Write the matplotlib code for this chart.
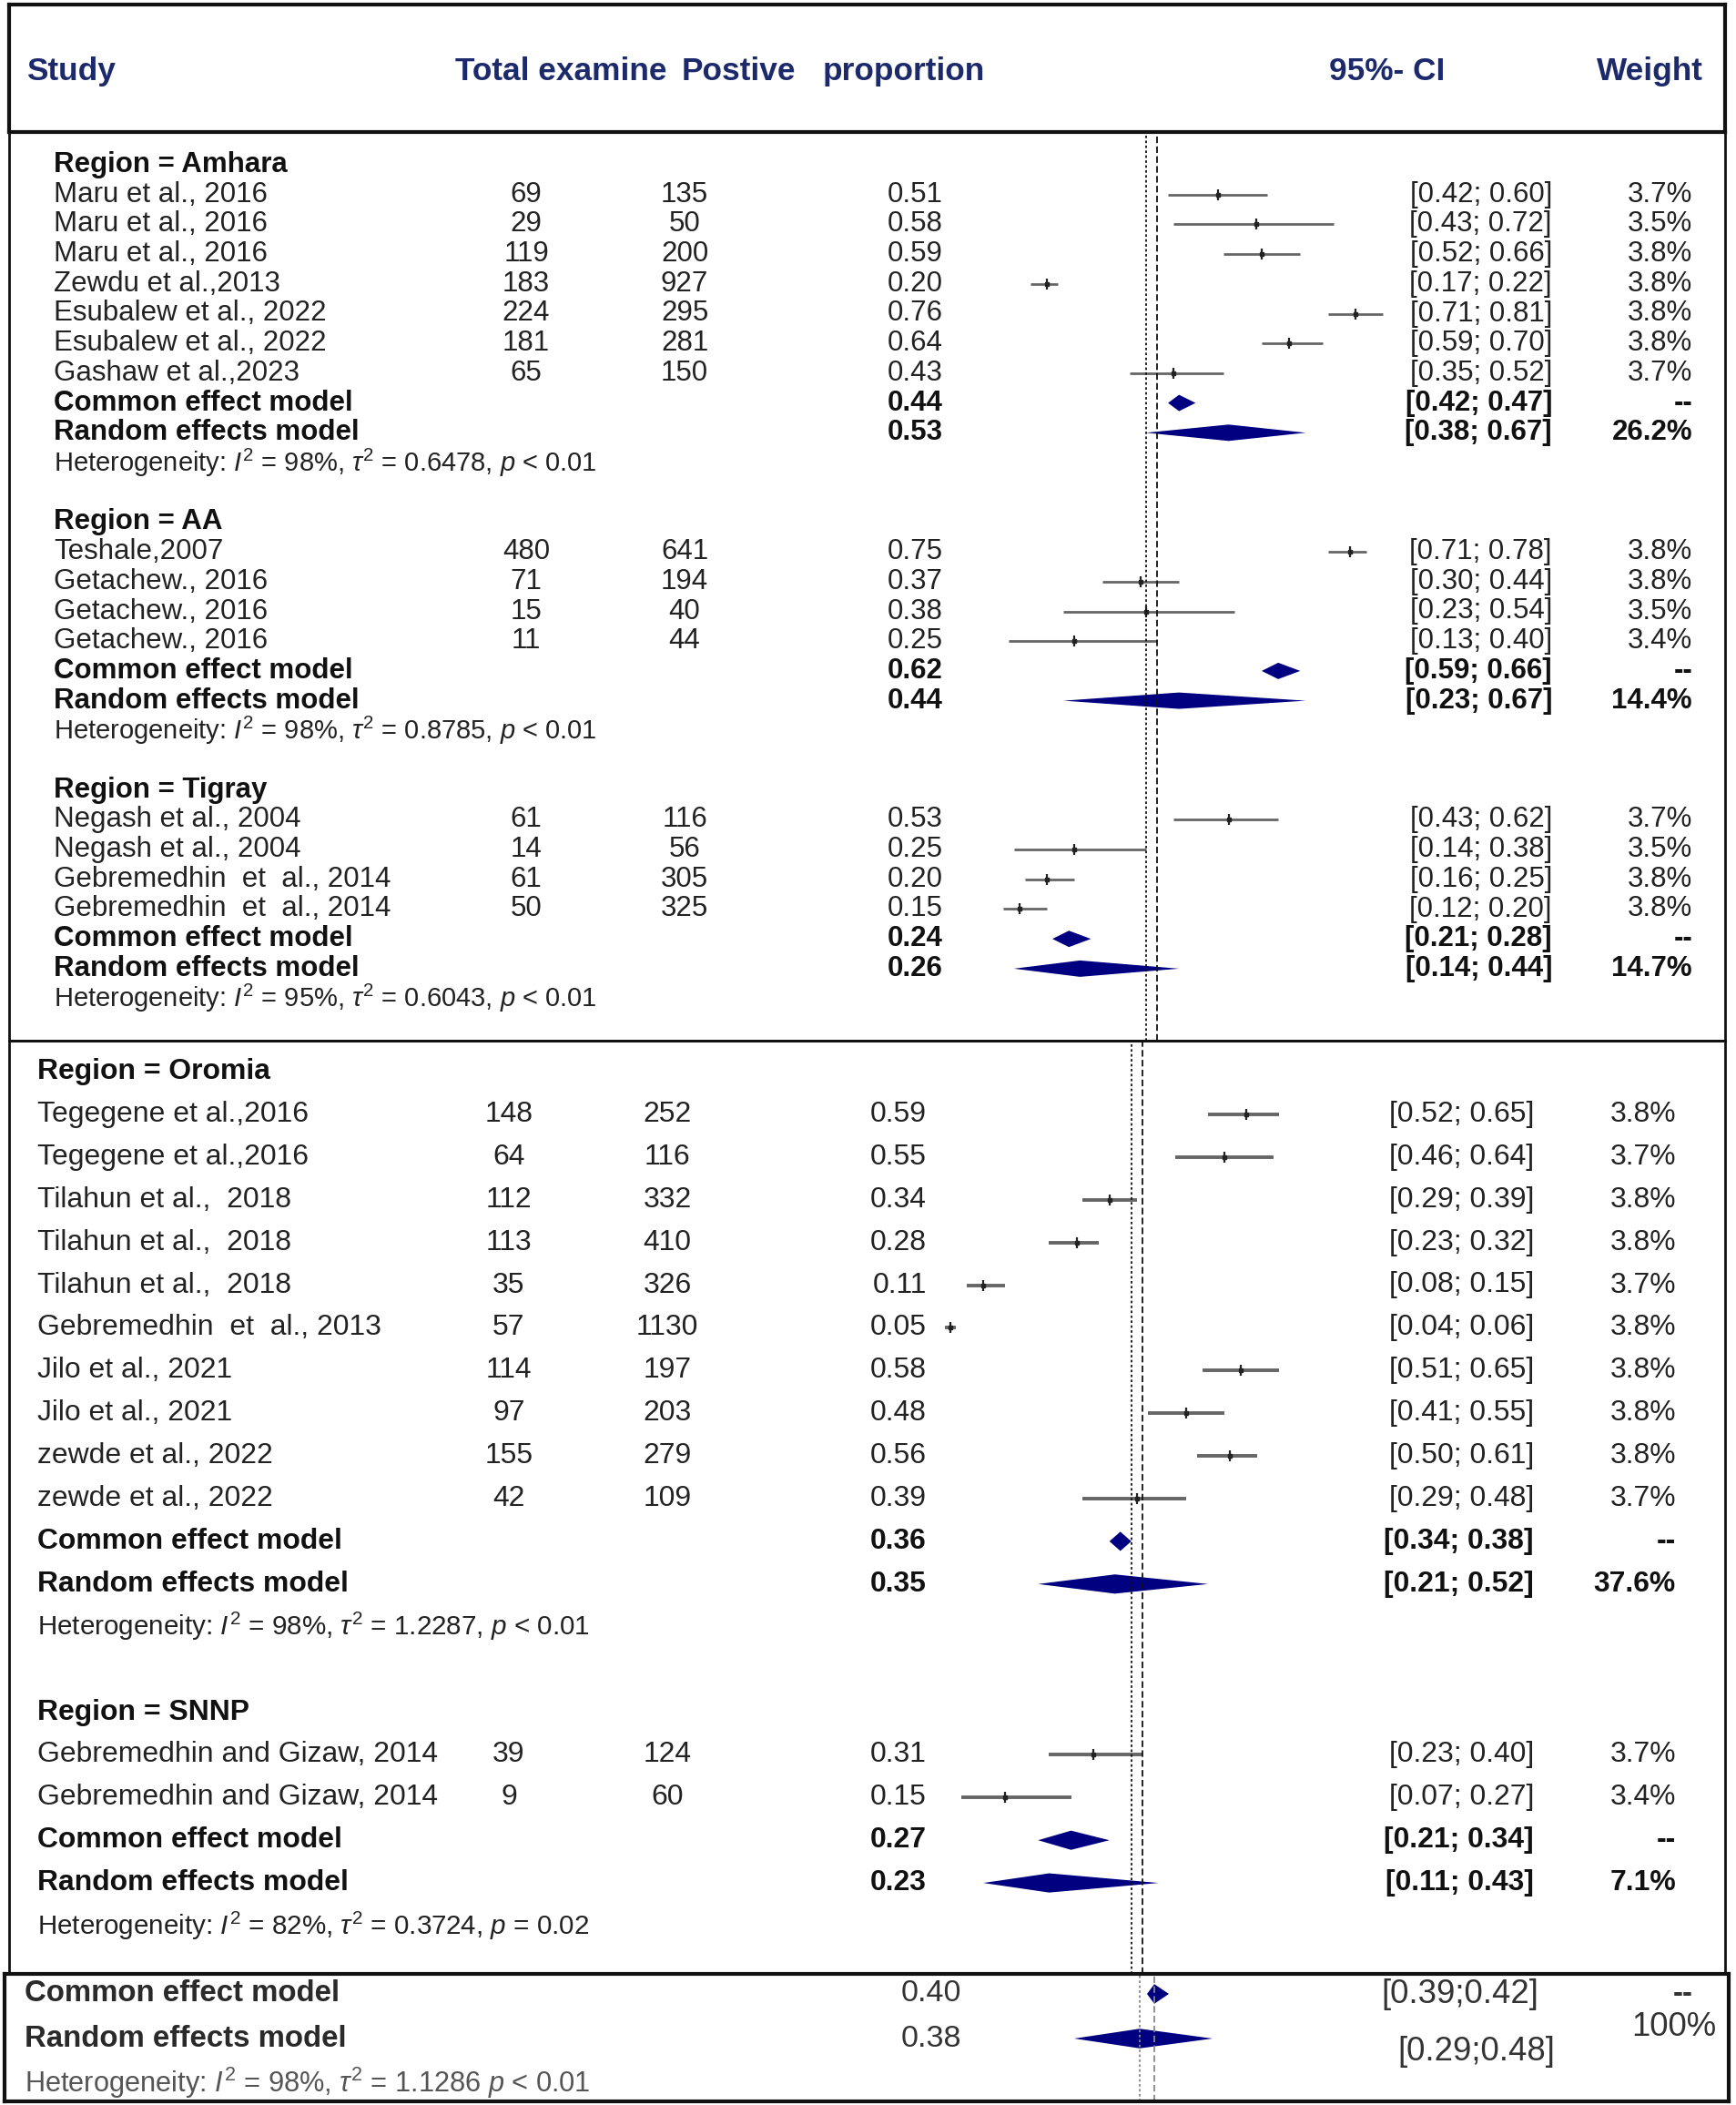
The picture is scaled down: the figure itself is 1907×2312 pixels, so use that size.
import matplotlib.pyplot as plt
import matplotlib.font_manager as fm
from matplotlib.patches import Polygon
from matplotlib.transforms import blended_transform_factory

# ---- data ---------------------------------------------------------------
amhara_names = ["Maru et al., 2016", "Maru et al., 2016", "Maru et al., 2016",
                "Zewdu et al.,2013", "Esubalew et al., 2022", "Esubalew et al., 2022",
                "Gashaw et al.,2023"]
amhara_total = [69, 29, 119, 183, 224, 181, 65]
amhara_pos = [135, 50, 200, 927, 295, 281, 150]
amhara_prop = [0.51, 0.58, 0.59, 0.20, 0.76, 0.64, 0.43]
amhara_lo = [0.42, 0.43, 0.52, 0.17, 0.71, 0.59, 0.35]
amhara_hi = [0.60, 0.72, 0.66, 0.22, 0.81, 0.70, 0.52]
amhara_w = ["3.7%", "3.5%", "3.8%", "3.8%", "3.8%", "3.8%", "3.7%"]
amhara_common = (0.44, 0.42, 0.47, "--")
amhara_random = (0.53, 0.38, 0.67, "26.2%")
amhara_het = ("98%", "0.6478,", "< 0.01")

aa_names = ["Teshale,2007", "Getachew., 2016", "Getachew., 2016", "Getachew., 2016"]
aa_total = [480, 71, 15, 11]
aa_pos = [641, 194, 40, 44]
aa_prop = [0.75, 0.37, 0.38, 0.25]
aa_lo = [0.71, 0.30, 0.23, 0.13]
aa_hi = [0.78, 0.44, 0.54, 0.40]
aa_w = ["3.8%", "3.8%", "3.5%", "3.4%"]
aa_common = (0.62, 0.59, 0.66, "--")
aa_random = (0.44, 0.23, 0.67, "14.4%")
aa_het = ("98%", "0.8785,", "< 0.01")

tigray_names = ["Negash et al., 2004", "Negash et al., 2004",
                "Gebremedhin  et  al., 2014", "Gebremedhin  et  al., 2014"]
tigray_total = [61, 14, 61, 50]
tigray_pos = [116, 56, 305, 325]
tigray_prop = [0.53, 0.25, 0.20, 0.15]
tigray_lo = [0.43, 0.14, 0.16, 0.12]
tigray_hi = [0.62, 0.38, 0.25, 0.20]
tigray_w = ["3.7%", "3.5%", "3.8%", "3.8%"]
tigray_common = (0.24, 0.21, 0.28, "--")
tigray_random = (0.26, 0.14, 0.44, "14.7%")
tigray_het = ("95%", "0.6043,", "< 0.01")

oromia_names = ["Tegegene et al.,2016", "Tegegene et al.,2016", "Tilahun et al.,  2018",
                "Tilahun et al.,  2018", "Tilahun et al.,  2018", "Gebremedhin  et  al., 2013",
                "Jilo et al., 2021", "Jilo et al., 2021", "zewde et al., 2022",
                "zewde et al., 2022"]
oromia_total = [148, 64, 112, 113, 35, 57, 114, 97, 155, 42]
oromia_pos = [252, 116, 332, 410, 326, 1130, 197, 203, 279, 109]
oromia_prop = [0.59, 0.55, 0.34, 0.28, 0.11, 0.05, 0.58, 0.48, 0.56, 0.39]
oromia_lo = [0.52, 0.46, 0.29, 0.23, 0.08, 0.04, 0.51, 0.41, 0.50, 0.29]
oromia_hi = [0.65, 0.64, 0.39, 0.32, 0.15, 0.06, 0.65, 0.55, 0.61, 0.48]
oromia_w = ["3.8%", "3.7%", "3.8%", "3.8%", "3.7%", "3.8%", "3.8%", "3.8%", "3.8%", "3.7%"]
oromia_common = (0.36, 0.34, 0.38, "--")
oromia_random = (0.35, 0.21, 0.52, "37.6%")
oromia_het = ("98%", "1.2287,", "< 0.01")

snnp_names = ["Gebremedhin and Gizaw, 2014", "Gebremedhin and Gizaw, 2014"]
snnp_total = [39, 9]
snnp_pos = [124, 60]
snnp_prop = [0.31, 0.15]
snnp_lo = [0.23, 0.07]
snnp_hi = [0.40, 0.27]
snnp_w = ["3.7%", "3.4%"]
snnp_common = (0.27, 0.21, 0.34, "--")
snnp_random = (0.23, 0.11, 0.43, "7.1%")
snnp_het = ("82%", "0.3724,", "= 0.02")

overall_common = (0.40, 0.39, 0.42, "--")
overall_random = (0.38, 0.29, 0.48, "100%")
overall_het = ("98%", "1.1286", "< 0.01")

headers = ["Study", "Total examine", "Postive", "proportion", "95%- CI", "Weight"]

# ---- fonts --------------------------------------------------------------
installed = {f.name for f in fm.fontManager.ttflist}
if "Liberation Sans Narrow" in installed:
    NARROW, NS = "Liberation Sans Narrow", 1.0
else:
    NARROW, NS = "Liberation Sans", 0.82
plt.rcParams["font.family"] = ["Liberation Sans", "DejaVu Sans"]
plt.rcParams["mathtext.fontset"] = "custom"
plt.rcParams["mathtext.rm"] = "Liberation Sans"
plt.rcParams["mathtext.it"] = "Liberation Sans:italic"
plt.rcParams["mathtext.bf"] = "Liberation Sans:bold"

W, H = 1907, 2312
fig = plt.figure(figsize=(W / 100, H / 100), dpi=100)
NAVY = "#000080"


def px_axes(x0, y0, x1, y1, lw=2.0):
    ax = fig.add_axes([x0 / W, 1 - y1 / H, (x1 - x0) / W, (y1 - y0) / H])
    ax.set_xticks([])
    ax.set_yticks([])
    ax.patch.set_alpha(0)
    for s in ax.spines.values():
        s.set_linewidth(lw)
        s.set_color("#111111")
    return ax


def het_label(het):
    i2, tau2, p = het
    return r"Heterogeneity: $I^2$ = " + i2 + r", $\tau^2$ = " + tau2 + r" $p$ " + p


def draw_group(ax, r0, region, names, total, pos, prop, lo, hi, wts,
               common, random, het, cols, fam, fs, fs_het, dh, lw_ci, color):
    tr = blended_transform_factory(fig.transFigure, ax.transData)
    xn, xt, xp, xpr, xci, xw = [c / W for c in cols]
    ax.text(xn, r0, "Region = " + region, transform=tr, family=fam, fontsize=fs,
            fontweight="bold", va="center", color="#111111")
    for i in range(len(names)):
        r = r0 + 1 + i
        ax.text(xn, r, names[i], transform=tr, family=fam, fontsize=fs, va="center", color=color)
        ax.text(xt, r, str(total[i]), transform=tr, family=fam, fontsize=fs, va="center",
                ha="center", color=color)
        ax.text(xp, r, str(pos[i]), transform=tr, family=fam, fontsize=fs, va="center",
                ha="center", color=color)
        ax.text(xpr, r, f"{prop[i]:.2f}", transform=tr, family=fam, fontsize=fs, va="center",
                ha="right", color=color)
        ax.text(xci, r, f"[{lo[i]:.2f}; {hi[i]:.2f}]", transform=tr, family=fam, fontsize=fs,
                va="center", ha="right", color=color)
        ax.text(xw, r, wts[i], transform=tr, family=fam, fontsize=fs, va="center",
                ha="right", color=color)
        ax.plot([lo[i], hi[i]], [r, r], color="#666666", lw=lw_ci, solid_capstyle="butt")
        ax.plot([prop[i]], [r], marker="|", ms=8, mew=1.6, color="#222222")
        ax.plot([prop[i]], [r], marker="s", ms=3.5, color="#222222")
    for k, (lab, est) in enumerate([("Common effect model", common),
                                     ("Random effects model", random)]):
        r = r0 + 1 + len(names) + k
        ax.text(xn, r, lab, transform=tr, family=fam, fontsize=fs, fontweight="bold",
                va="center", color="#111111")
        ax.text(xpr, r, f"{est[0]:.2f}", transform=tr, family=fam, fontsize=fs,
                fontweight="bold", va="center", ha="right", color="#111111")
        ax.text(xci, r, f"[{est[1]:.2f}; {est[2]:.2f}]", transform=tr, family=fam,
                fontsize=fs, fontweight="bold", va="center", ha="right", color="#111111")
        ax.text(xw, r, est[3], transform=tr, family=fam, fontsize=fs, fontweight="bold",
                va="center", ha="right", color="#111111")
        ax.add_patch(Polygon([(est[1], r), (est[0], r - dh / 2), (est[2], r),
                              (est[0], r + dh / 2)], closed=True, color=NAVY, lw=0))
    r = r0 + 3 + len(names)
    ax.text(xn, r, het_label(het), transform=tr, family=fam, fontsize=fs_het,
            va="center", color=color)


# ---- header ------------------------------------------------------------
axh = px_axes(10, 5, 1895, 145, lw=3)
head_x = [78, 616, 811, 993, 1524, 1812]
for lab, x in zip(headers, head_x):
    axh.text(x / W, 1 - 88 / H, lab, transform=fig.transFigure, family=NARROW,
             fontsize=31 * NS, fontweight="bold", ha="center", va="baseline", color="#1c2a6c")

# ---- panel 1: Amhara / AA / Tigray ----------------------------------------
ax1 = px_axes(10, 145, 1895, 1143)
ax1.set_xlim((10 - 1029) / 605, (1895 - 1029) / 605)
ax1.set_ylim((1143 - 181) / 32.7, (145 - 181) / 32.7)
cols1 = [59, 578, 752, 1036, 1705, 1859]
groups1 = [("Amhara", amhara_names, amhara_total, amhara_pos, amhara_prop, amhara_lo,
            amhara_hi, amhara_w, amhara_common, amhara_random, amhara_het),
           ("AA", aa_names, aa_total, aa_pos, aa_prop, aa_lo, aa_hi, aa_w, aa_common,
            aa_random, aa_het),
           ("Tigray", tigray_names, tigray_total, tigray_pos, tigray_prop, tigray_lo,
            tigray_hi, tigray_w, tigray_common, tigray_random, tigray_het)]
r0 = 0
for g in groups1:
    draw_group(ax1, r0, *g, cols=cols1, fam="Liberation Sans", fs=22.5, fs_het=21,
               dh=0.55, lw_ci=2.0, color="#222222")
    r0 += len(g[1]) + 5
ax1.axvline(overall_random[0], color="#111111", ls=(0, (1.5, 1.5)), lw=1.3)
ax1.axvline(overall_common[0], color="#111111", ls=(0, (4, 2)), lw=1.3)

# ---- panel 2: Oromia / SNNP ----------------------------------------------
ax2 = px_axes(10, 1143, 1895, 2168)
ax2.set_xlim((10 - 1014) / 602, (1895 - 1014) / 602)
ax2.set_ylim((2168 - 1177) / 46.9, (1143 - 1177) / 46.9)
cols2 = [41, 559, 733, 1018, 1685, 1841]
groups2 = [("Oromia", oromia_names, oromia_total, oromia_pos, oromia_prop, oromia_lo,
            oromia_hi, oromia_w, oromia_common, oromia_random, oromia_het),
           ("SNNP", snnp_names, snnp_total, snnp_pos, snnp_prop, snnp_lo, snnp_hi, snnp_w,
            snnp_common, snnp_random, snnp_het)]
r0 = 0
for g in groups2:
    draw_group(ax2, r0, *g, cols=cols2, fam=NARROW, fs=28 * NS, fs_het=26 * NS,
               dh=0.45, lw_ci=2.8, color="#222222")
    r0 += len(g[1]) + 5
ax2.axvline(overall_random[0], color="#111111", ls=(0, (1.5, 1.5)), lw=1.3)
ax2.axvline(overall_common[0], color="#111111", ls=(0, (4, 2)), lw=1.3)

# ---- panel 3: overall ------------------------------------------------------
ax3 = px_axes(5, 2168, 1899, 2308, lw=3)
ax3.set_xlim((5 - 948) / 800, (1899 - 948) / 800)
ax3.set_ylim((2308 - 2190) / 49, (2168 - 2190) / 49)
tr3 = blended_transform_factory(fig.transFigure, ax3.transData)
for k, (lab, est) in enumerate([("Common effect model", overall_common),
                                 ("Random effects model", overall_random)]):
    ax3.text(27 / W, k, lab, transform=tr3, family=NARROW, fontsize=29 * NS,
             fontweight="bold", va="center", color="#2a2a2a")
    ax3.text(1056 / W, k, f"{est[0]:.2f}", transform=tr3, family=NARROW,
             fontsize=30 * NS, va="center", ha="right", color="#333333")
    ax3.text((1690 + 18 * k) / W, k + 0.3 * k, f"[{est[1]:.2f};{est[2]:.2f}]",
             transform=tr3, family=NARROW, fontsize=32 * NS, va="center", ha="right",
             color="#333333")
    ax3.add_patch(Polygon([(est[1], k), (est[0], k - 0.22), (est[2], k),
                           (est[0], k + 0.22)], closed=True, color=NAVY, lw=0))
ax3.text(1860 / W, 0, overall_common[3], transform=tr3, family=NARROW, fontsize=29 * NS,
         fontweight="bold", va="center", ha="right", color="#333333")
ax3.text(1885 / W, 0.75, overall_random[3], transform=tr3, family=NARROW,
         fontsize=32 * NS, va="center", ha="right", color="#333333")
ax3.text(27 / W, 2, het_label(overall_het), transform=tr3, family=NARROW,
         fontsize=27 * NS, va="center", color="#555555")
ax3.axvline(overall_random[0], color="#888888", ls=(0, (1.5, 1.5)), lw=1.3)
ax3.axvline(overall_common[0], color="#888888", ls=(0, (4, 2)), lw=1.3)

fig.savefig("out.png", dpi=100)
